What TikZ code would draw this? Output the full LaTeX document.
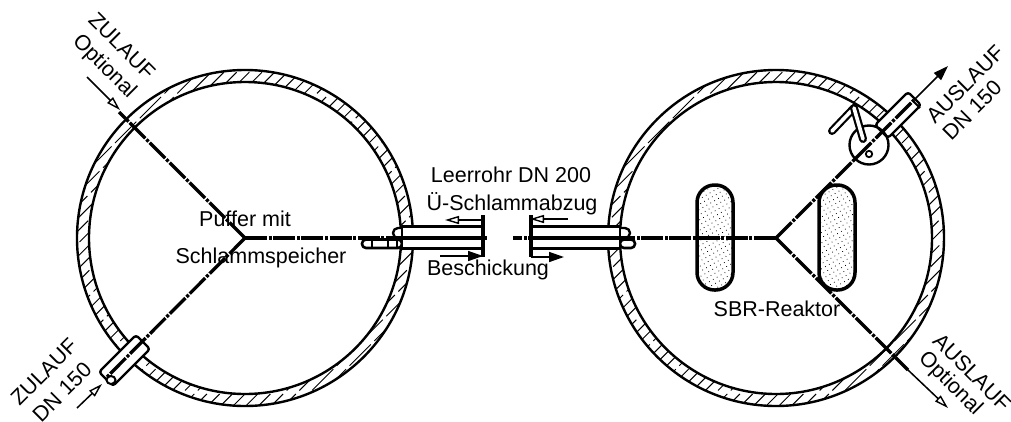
\documentclass[tikz,border=0pt]{standalone}
\usepackage{fontspec}
\setmainfont{Liberation Sans}
\usetikzlibrary{arrows.meta,patterns.meta}
\tikzset{
  centerline/.style={line width=3.3pt,dash pattern=on 22pt off 1.6pt on 3pt off 1.6pt},
  outline/.style={line width=2.4pt,draw=black,fill=white,line join=round},
  hatchline/.style={line width=1pt,dash pattern=on 30pt off 5pt},
  ringline/.style={line width=2.4pt},
  lbl/.style={font=\fontsize{21.5}{24}\selectfont,inner sep=0pt},
  baselbl/.style={lbl,anchor=base},
  thinline/.style={line width=1.5pt},
  openhead/.style={-{Triangle[open,length=14pt,width=8pt,line width=1.4pt]}},
  fullhead/.style={-{Triangle[length=15pt,width=10pt]}},
  pill/.style={line width=3.5pt,rounded corners=17.5pt,pattern={Dots[distance=4.5pt,radius=0.55pt,angle=30]}},
}
\begin{document}
\begin{tikzpicture}[x=1pt,y=-1pt]
\useasboundingbox (0,0) rectangle (1011,421);
% key points
\coordinate (hubL) at (245,238);
\coordinate (hubR) at (776,238);
% rings
\foreach \cx/\co in {245/4,776/6}{
  \begin{scope}
    \clip (\cx,238) circle[radius=168];
    \foreach \k in {0,...,40}{
      \draw[hatchline] ({\cx+238-229+\co+12.7*\k+200},-200) -- ({\cx+238-229+\co+12.7*\k-500},500);
    }
  \end{scope}
  \draw[ringline] (\cx,238) circle[radius=168];
  \draw[ringline,fill=white] (\cx,238) circle[radius=156];
}
% pill aerators
\draw[pill] (697,185) rectangle (733,290);
\draw[pill] (819,185) rectangle (855,290);
% lower-left pipe
\draw[outline,rounded corners=3pt] (136,335) -- (150,349) -- (113,386) -- (99,372) -- cycle;
\draw[line width=2pt,fill=white] (111,380) ellipse[x radius=4.5,y radius=4];
% upper-right pipe
\draw[outline,rounded corners=3pt] (908,92) -- (921,105) -- (888,138) -- (875,125) -- cycle;
\draw[line width=2pt] (912,100) -- (920,108);
% valve disc
\draw[outline,fill=none] (869,145) circle[radius=19.5];
\draw[line width=1.8pt] (869,154) circle[radius=3.2];
% levers
\draw[line width=8pt,line cap=round] (854,108) -- (832,131);
\draw[line width=3.6pt,white,line cap=round] (854,108) -- (832,131);
\draw[line width=8pt,line cap=round] (854,108) -- (863,139);
\draw[line width=3.6pt,white,line cap=round] (854,108) -- (863,139);
% middle pipes: small branches
\draw[outline,rounded corners=5pt] (402,228) -- (393,228) -- (393,238) -- (402,238);
\draw[outline,line width=2.6pt,rounded corners=4pt] (402,239.5) -- (362,239.5) -- (362,248) -- (402,248) -- cycle;
\foreach \tx in {372,388,397}{\draw[line width=2pt] (\tx,240) -- (\tx,247);}
\draw[outline,rounded corners=5pt] (620,228) -- (630,228) -- (630,238) -- (620,238);
\draw[outline,line width=2.6pt,rounded corners=4pt] (620,239.5) -- (635,239.5) -- (635,248) -- (620,248) -- cycle;
% middle pipes: bodies
\draw[fill=white,draw=none] (402,226) rectangle (483,249);
\draw[fill=white,draw=none] (531,226) rectangle (620,249);
\foreach \xa/\xb in {402/483,531/620}{
  \draw[line width=3.8pt] (\xa,226.5) -- (\xb,226.5);
  \draw[line width=4.8pt] (\xa,238) -- (\xb,238);
  \draw[line width=3.2pt] (\xa,248.5) -- (\xb,248.5);
  \draw[line width=2.4pt] (\xa,226) -- (\xa,249);
  \draw[line width=2.4pt] (\xb,226) -- (\xb,249);
}
\draw[line width=3.4pt] (483,215) -- (483,257);
\draw[line width=3.4pt] (531,215) -- (531,257);
% center lines
\coordinate (uL) at (119,112);
\coordinate (llEnd) at (106,378);
\coordinate (midL) at (487,238);
\coordinate (midR) at (513,238);
\coordinate (urEnd) at (914,100);
\coordinate (lrEnd) at (908,370);
\draw[centerline] (hubL) -- (midL);
\draw[centerline] (hubL) -- (uL);
\draw[centerline] (hubL) -- (llEnd);
\draw[centerline] (hubR) -- (midR);
\draw[centerline] (hubR) -- (urEnd);
\draw[centerline] (hubR) -- (lrEnd);
% flow arrows
\coordinate (a1) at (87,77);   \coordinate (a1t) at (120,110);
\coordinate (a2) at (77,408);  \coordinate (a2t) at (102,384);
\coordinate (a3t) at (948,66);
\coordinate (a4t) at (948,408);
\draw[thinline,openhead] (a1) -- (a1t);
\draw[thinline,openhead] (a2) -- (a2t);
\draw[thinline,fullhead] (urEnd) -- (a3t);
\draw[thinline,openhead] (lrEnd) -- (a4t);
\coordinate (b1) at (482,220); \coordinate (b1t) at (445,220);
\coordinate (b2) at (568,219); \coordinate (b2t) at (530,219);
\coordinate (b3) at (440,256); \coordinate (b3t) at (483,256);
\coordinate (b4) at (531,257); \coordinate (b4t) at (564,257);
\draw[thinline,openhead] (b1) -- (b1t);
\draw[thinline,openhead] (b2) -- (b2t);
\draw[thinline,fullhead] (b3) -- (b3t);
\draw[thinline,fullhead] (b4) -- (b4t);
% labels
\node[lbl,rotate=-45] (t1) at (122,46) {ZULAUF};
\node[lbl,rotate=-45] (t2) at (104,67) {Optional};
\node[lbl,rotate=45] (t3) at (44,372) {ZULAUF};
\node[lbl,rotate=45] (t4) at (62,392) {DN 150};
\node[baselbl] (t5) at (245,226) {Puffer mit};
\node[baselbl] (t6) at (261,263) {Schlammspeicher};
\node[baselbl] (t7) at (511,182) {Leerrohr DN 200};
\node[baselbl] (t8) at (512,210) {Ü-Schlammabzug};
\node[baselbl] (t9) at (488,275) {Beschickung};
\node[baselbl] (t10) at (777,316.5) {SBR-Reaktor};
\node[lbl,rotate=45] (t11) at (965,84) {AUSLAUF};
\node[lbl,rotate=45] (t12) at (972,110) {DN 150};
\node[lbl,rotate=-45] (t13) at (972,372) {AUSLAUF};
\node[lbl,rotate=-45] (t14) at (950,384) {Optional};
\end{tikzpicture}
\end{document}
